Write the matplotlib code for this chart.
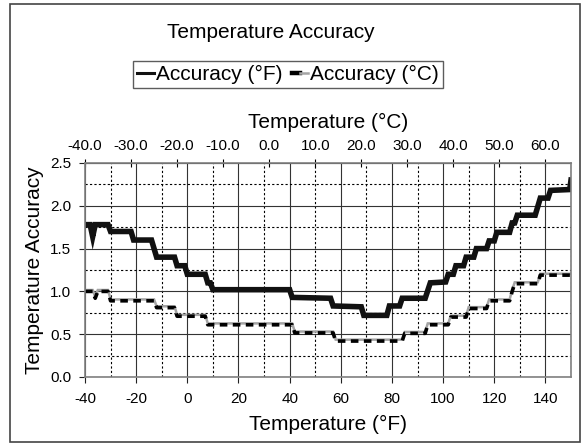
import matplotlib
matplotlib.use('Agg')
import matplotlib.pyplot as plt
import matplotlib.transforms as mtransforms
from matplotlib.lines import Line2D
from matplotlib.legend_handler import HandlerTuple
from matplotlib.patches import Rectangle
import numpy as np

plt.rcParams['font.family'] = ['Liberation Sans', 'DejaVu Sans']
plt.rcParams['axes.unicode_minus'] = False

# accuracy in deg F (vertices of the stepped line)
temp_f_pts = [-40, -38, -37, -36, -31, -30, -22, -21, -14, -13, -12, -5, -4, -1, 0,
              7, 8, 9, 10, 40, 41, 56, 57, 68, 69, 78, 79, 83, 84, 93,
              94, 95, 101, 102, 104, 105, 108, 109, 112, 113, 117, 118, 120, 121, 126,
              127, 128, 129, 136, 137, 138, 141, 142, 149.5, 150]
acc_f = [1.78, 1.78, 1.64, 1.78, 1.78, 1.70, 1.70, 1.60, 1.60, 1.50, 1.40, 1.40, 1.30, 1.30, 1.20,
         1.20, 1.10, 1.10, 1.02, 1.02, 0.93, 0.92, 0.83, 0.82, 0.72, 0.72, 0.83, 0.83, 0.92, 0.92,
         1.01, 1.10, 1.11, 1.20, 1.20, 1.30, 1.30, 1.40, 1.40, 1.50, 1.50, 1.59, 1.59, 1.69, 1.69,
         1.80, 1.80, 1.89, 1.89, 1.99, 2.09, 2.09, 2.18, 2.19, 2.30]

# accuracy in deg C
temp_c_pts = [-40, -37, -36, -35, -31, -30, -13, -12, -5, -4, 7, 8, 41, 42, 57, 58,
              84, 85, 93, 94, 102, 103, 109, 110, 117, 118, 126, 127, 128, 137, 138, 150]
acc_c = [1.0, 1.0, 0.92, 1.0, 1.0, 0.89, 0.89, 0.81, 0.81, 0.71, 0.71, 0.61, 0.61, 0.515, 0.515, 0.42,
         0.42, 0.51, 0.51, 0.61, 0.61, 0.70, 0.70, 0.80, 0.80, 0.89, 0.89, 1.0, 1.09, 1.09, 1.19, 1.19]

f_ticks = [-40, -20, 0, 20, 40, 60, 80, 100, 120, 140]
c_ticks = [-40, -30, -20, -10, 0, 10, 20, 30, 40, 50, 60]
y_ticks = [0.0, 0.5, 1.0, 1.5, 2.0, 2.5]

fig = plt.figure(figsize=(5.84, 4.46), dpi=100)
ax = fig.add_axes([85 / 584, 1 - 377 / 446, 486 / 584, 214 / 446])

ax.set_xlim(-40, 150)
ax.set_ylim(0, 2.5)

# grid
ax.set_xticks(f_ticks)
ax.set_xticks(np.arange(-30, 151, 20), minor=True)
ax.set_yticks(y_ticks)
ax.set_yticks(np.arange(0.25, 2.5, 0.5), minor=True)
ax.grid(which='major', color='#333333', lw=0.8)
ax.grid(which='minor', color='black', lw=0.8, linestyle=(0, (2, 2)))
ax.set_axisbelow(True)

for s in ax.spines.values():
    s.set_color('#808080')
    s.set_linewidth(1.2)

ax.tick_params(which='minor', length=0)
ax.tick_params(which='major', direction='out', length=4, width=0.8, labelsize=11,
               colors='#222222', labelcolor='black')
ax.tick_params(axis='x', pad=7)
ax.tick_params(axis='y', pad=6)
ax.set_xticklabels([str(t) for t in f_ticks])
ax.set_yticklabels(['%.1f' % t for t in y_ticks])

ax.set_xlabel('Temperature (°F)', fontsize=15, labelpad=6)
ax.set_ylabel('Temperature Accuracy', fontsize=15, labelpad=4)

# series
gray_tr = mtransforms.offset_copy(ax.transData, fig=fig, x=0, y=1.0, units='points')
g_line, = ax.plot(temp_c_pts, acc_c, color='#a4a4a4', lw=1.8, transform=gray_tr,
                  solid_joinstyle='miter')
d_line, = ax.plot(temp_c_pts, acc_c, color='black', lw=2.6, linestyle=(0, (2.1, 1.5)))
f_line, = ax.plot(temp_f_pts, acc_f, color='#111111', lw=4, solid_joinstyle='miter')

# top celsius axis
sec = ax.secondary_xaxis('top', functions=(lambda f: (f - 32) / 1.8, lambda c: c * 1.8 + 32))
sec.set_xticks(c_ticks)
sec.set_xticklabels(['%.1f' % c for c in c_ticks])
sec.tick_params(direction='inout', length=6, width=0.8, labelsize=11, pad=4)
sec.spines['top'].set_color('#808080')
sec.set_xlabel('Temperature (°C)', fontsize=15, labelpad=8)

fig.text(271 / 584, 1 - 33 / 446, 'Temperature Accuracy', fontsize=15,
         ha='center', va='center')

# legend proxies: black dash followed by gray line for the deg C series
leg_f = Line2D([], [], color='#111111', lw=2.2)
leg_g = Line2D([], [], color='#a4a4a4', lw=1.8)
leg_d = Line2D([], [], color='black', lw=3.2)
leg = fig.legend([leg_f, (leg_d, leg_g)],
                 ['Accuracy (°F)', 'Accuracy (°C)'],
                 handler_map={tuple: HandlerTuple(ndivide=2, pad=0)},
                 loc='center', bbox_to_anchor=(288 / 584, 1 - 74.5 / 446), ncol=2,
                 fontsize=15, frameon=True, fancybox=False, handlelength=0.8,
                 handletextpad=0.1, columnspacing=0.45, borderpad=0.2,
                 borderaxespad=0)
leg.get_frame().set_edgecolor('#333333')
leg.get_frame().set_linewidth(1.0)

# outer chart border
fig.patches.append(Rectangle((10 / 584, 4 / 446), 570 / 584, 438 / 446,
                             transform=fig.transFigure, fill=False,
                             edgecolor='#444444', lw=1.2))

fig.savefig('out.png', dpi=100)
